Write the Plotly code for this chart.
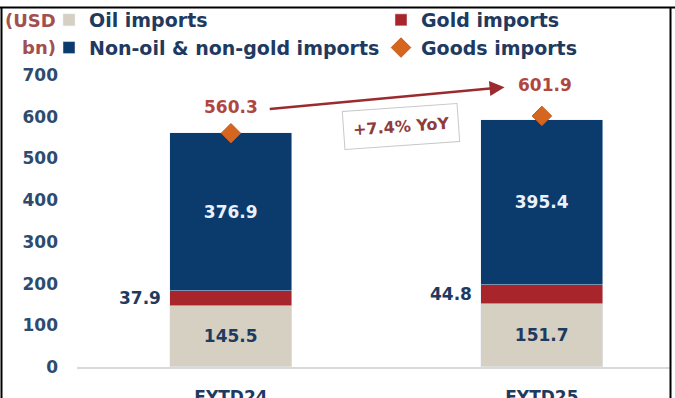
import plotly.graph_objects as go

categories = ["FYTD24", "FYTD25"]
oil_imports = [145.5, 151.7]
gold_imports = [37.9, 44.8]
nonoil_nongold_imports = [376.9, 395.4]
goods_imports = [560.3, 601.9]
yoy_label = "+7.4% YoY"
y_ticks = [0, 100, 200, 300, 400, 500, 600, 700]

FONT = "DejaVu Sans"
C_OIL = "#D5D0C1"
C_GOLD = "#A8262B"
C_NON = "#0B3A6D"
C_GOODS = "#D4661F"
C_TICK = "#2E4A6E"
C_LEG = "#1F3A5F"
C_RED = "#B0473F"

xs = list(range(len(categories)))
BW = 0.39


# paper coords relative to plot area 77..670 x 75..367
def px_x(px):
    return (px - 77) / 593


def px_y(py):
    return (367 - py) / 292


fig = go.Figure()
fig.add_trace(go.Bar(
    x=xs, y=oil_imports, name="Oil imports", marker_color=C_OIL, width=BW,
    text=[f"{v:.1f}" for v in oil_imports], textposition="inside",
    insidetextanchor="middle", textangle=0,
    textfont=dict(family=FONT, size=17, color=C_LEG, weight="bold"),
    legend="legend",
))
fig.add_trace(go.Bar(
    x=xs, y=gold_imports, name="Gold imports", marker_color=C_GOLD, width=BW,
    legend="legend2",
))
fig.add_trace(go.Bar(
    x=xs, y=nonoil_nongold_imports, name="Non-oil & non-gold imports",
    marker_color=C_NON, width=BW,
    text=[f"{v:.1f}" for v in nonoil_nongold_imports], textposition="inside",
    insidetextanchor="middle", textangle=0,
    textfont=dict(family=FONT, size=17, color="#EAF1FA", weight="bold"),
    legend="legend",
))
fig.add_trace(go.Scatter(
    x=xs, y=goods_imports, name="Goods imports", mode="markers",
    marker=dict(symbol="diamond", size=15, color=C_GOODS,
                line=dict(color="#C4581A", width=1)),
    legend="legend2",
))

annotations = []
# gold labels to the left of bars
for i in xs:
    annotations.append(dict(
        x=i - BW / 2, y=oil_imports[i] + gold_imports[i] / 2, xref="x", yref="y",
        text=f"{gold_imports[i]:.1f}", showarrow=False, xanchor="right", xshift=-7,
        font=dict(family=FONT, size=17, color=C_LEG, weight="bold"),
    ))
# goods totals
shifts = [(0, 26), (3, 31)]
for i in xs:
    annotations.append(dict(
        x=i, y=goods_imports[i], xref="x", yref="y", text=f"{goods_imports[i]:.1f}",
        showarrow=False, xshift=shifts[i][0], yshift=shifts[i][1],
        font=dict(family=FONT, size=17, color=C_RED, weight="bold"),
    ))
# arrow
annotations.append(dict(
    x=1 - 0.12, y=goods_imports[1] + 69, xref="x", yref="y",
    ax=0 + 0.12, ay=goods_imports[0] + 58, axref="x", ayref="y",
    text="", showarrow=True, arrowhead=2, arrowsize=1.2, arrowwidth=2.5,
    arrowcolor="#9B2B2E",
))
# YoY box
annotations.append(dict(
    x=0.547, y=(goods_imports[0] + goods_imports[1]) / 2 - 5, xref="x", yref="y",
    text=yoy_label, showarrow=False, textangle=-4,
    font=dict(family=FONT, size=16, color="#8E3B3B", weight="bold"),
    bordercolor="#C8C8C8", borderwidth=1, borderpad=9, bgcolor="white",
))
# unit label
annotations.append(dict(x=px_x(58), y=px_y(20), xref="paper", yref="paper",
    text="(USD", showarrow=False, xanchor="right", yanchor="middle",
    font=dict(family=FONT, size=18, color="#A34F50", weight="bold")))
annotations.append(dict(x=px_x(58), y=px_y(47), xref="paper", yref="paper",
    text="bn)", showarrow=False, xanchor="right", yanchor="middle",
    font=dict(family=FONT, size=18, color="#A34F50", weight="bold")))

shapes = [
    dict(type="line", xref="paper", yref="paper", x0=px_x(-2), x1=px_x(680),
         y0=px_y(7.5), y1=px_y(7.5), line=dict(color="black", width=2)),
    dict(type="line", xref="paper", yref="paper", x0=px_x(1.5), x1=px_x(1.5),
         y0=px_y(7.5), y1=px_y(402), line=dict(color="black", width=2)),
    dict(type="line", xref="paper", yref="paper", x0=px_x(670.5), x1=px_x(670.5),
         y0=px_y(7.5), y1=px_y(402), line=dict(color="black", width=2)),
]

legend_font = dict(family=FONT, size=19, color=C_LEG, weight="bold")
fig.update_layout(
    width=675, height=398,
    margin=dict(l=77, r=5, t=75, b=31, autoexpand=False),
    paper_bgcolor="white", plot_bgcolor="white",
    barmode="stack", bargap=0,
    showlegend=True,
    legend=dict(xref="container", yref="container", x=49 / 675, y=1 - 1 / 398,
                xanchor="left", yanchor="top", orientation="v",
                font=legend_font, bgcolor="rgba(0,0,0,0)", traceorder="normal",
                itemclick=False),
    legend2=dict(xref="container", yref="container", x=381 / 675, y=1 - 1 / 398,
                 xanchor="left", yanchor="top", orientation="v",
                 font=legend_font, bgcolor="rgba(0,0,0,0)", traceorder="normal",
                 itemclick=False),
    xaxis=dict(range=[-0.495, 1.412], tickvals=xs, ticktext=categories,
               showgrid=False, zeroline=False, showline=True, linecolor="#D9D9D9",
               linewidth=2, ticks="", ticklabelstandoff=14, automargin=False,
               tickfont=dict(family=FONT, size=17, color=C_LEG, weight="bold")),
    yaxis=dict(range=[0, 700], tickvals=y_ticks, showgrid=False, zeroline=False,
               showline=False, ticks="", ticklabelstandoff=18, automargin=False,
               tickfont=dict(family=FONT, size=17, color=C_TICK, weight="bold")),
    annotations=annotations, shapes=shapes,
)

fig.write_html("out.html")
